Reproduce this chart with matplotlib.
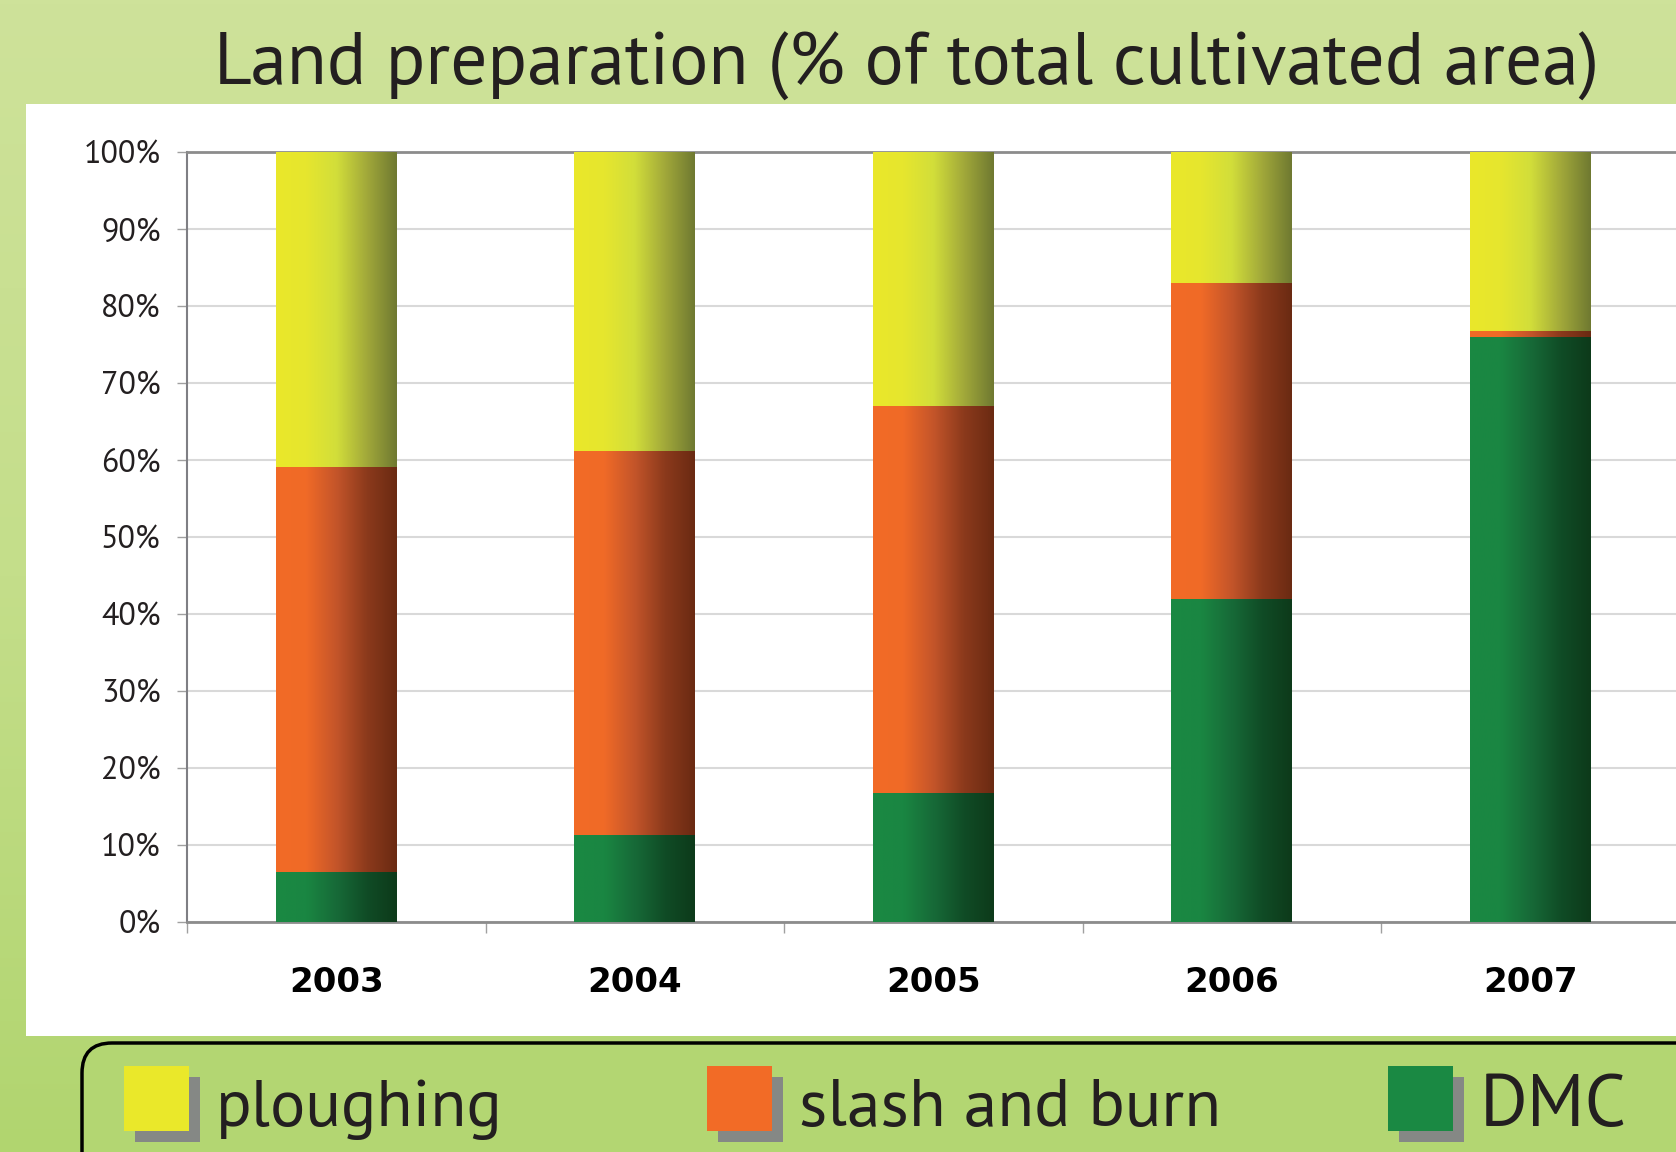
import numpy as np
import matplotlib
matplotlib.use('Agg')
import matplotlib.pyplot as plt
from matplotlib.colors import LinearSegmentedColormap
from matplotlib.patches import Rectangle, FancyBboxPatch
from matplotlib import font_manager

# ---------------- data ----------------
title = "Land preparation (% of total cultivated area)"
years = ['2003', '2004', '2005', '2006', '2007']
series_names = ['DMC', 'slash and burn', 'ploughing']      # bottom -> top
dmc = [6.5, 11.3, 16.7, 41.9, 76.0]
slash_and_burn = [52.6, 49.9, 50.3, 41.1, 0.8]
ploughing = [40.9, 38.8, 33.0, 17.0, 23.2]
ytick_values = [0, 10, 20, 30, 40, 50, 60, 70, 80, 90, 100]
ytick_labels = [f'{v}%' for v in ytick_values]
legend_order = ['ploughing', 'slash and burn', 'DMC']

# ---------------- styles ----------------
series_values = {'DMC': dmc, 'slash and burn': slash_and_burn, 'ploughing': ploughing}
grad_stops = {
    'ploughing': ['#EAE82A', '#E6E62E', '#D2DE3A', '#A2A93A', '#6F7931'],
    'slash and burn': ['#F26B26', '#F06A27', '#C4552A', '#8C3A1C', '#6A2A12'],
    'DMC': ['#1A8943', '#1A8642', '#176A38', '#104C26', '#0D3A1A'],
}
stop_pos = [0.0, 0.25, 0.5, 0.75, 1.0]
TXT = '#231F20'

names = {f.name for f in font_manager.fontManager.ttflist}
def pick(*cands):
    for c in cands:
        if c in names:
            return c
    return 'DejaVu Sans'
myriad = pick('PT Sans', 'Fira Sans', 'Liberation Sans')
ylab_font = pick('PT Sans', 'Open Sans', 'DejaVu Sans')

W, H = 1676, 1152
fig = plt.figure(figsize=(W / 100, H / 100), dpi=100)

def fit_width(txt, target):
    fig.canvas.draw()
    w = txt.get_window_extent().width
    txt.set_fontsize(txt.get_fontsize() * target / w)

# background overlay axes in pixel coordinates
bg = fig.add_axes([0, 0, 1, 1], zorder=0)
bg.set_xlim(0, W)
bg.set_ylim(H, 0)
bg.axis('off')
bg_cmap = LinearSegmentedColormap.from_list('bg', ['#CEE29A', '#C4DE8A', '#B1D56F'])
bg.imshow(np.linspace(0, 1, 256).reshape(-1, 1), extent=(0, W, H, 0), cmap=bg_cmap,
          aspect='auto', origin='upper', zorder=0)
bg.add_patch(Rectangle((26, 104), W - 26, 932, facecolor='white', edgecolor='none', zorder=1))

# title
t = bg.text(907, 85, title, ha='center', va='baseline', fontsize=50, family=myriad,
            color=TXT, zorder=2)
fit_width(t, 1386)

# legend box
bg.add_patch(FancyBboxPatch((82, 1043), 1700, 200, boxstyle='round,pad=0,rounding_size=30',
                            facecolor='#B3D672', edgecolor='black', lw=2.5, zorder=2))
leg_x = [124, 707, 1388]
leg_w = [287, 422, 147]
for x0, wt, name in zip(leg_x, leg_w, legend_order):
    bg.add_patch(Rectangle((x0 + 11, 1077), 65, 65, facecolor='#858885', edgecolor='none', zorder=3))
    bg.add_patch(Rectangle((x0, 1066), 65, 65, facecolor=grad_stops[name][0], edgecolor='none', zorder=4))
    lt = bg.text(x0 + 92, 1126, name, ha='left', va='baseline', fontsize=55, family=myriad,
                 color=TXT, zorder=4)
    fit_width(lt, wt)

# main axes
ax = fig.add_axes([187 / W, 1 - 922 / H, 1492.5 / W, 770 / H], zorder=2)
ax.set_facecolor('none')
x = np.arange(len(years))
bottom = np.zeros(len(years))
grad = np.linspace(0, 1, 256).reshape(1, -1)
for name in series_names:
    vals = np.array(series_values[name])
    cmap = LinearSegmentedColormap.from_list(name, list(zip(stop_pos, grad_stops[name])))
    bars = ax.bar(x, vals, width=0.405, bottom=bottom, color=grad_stops[name][0],
                  edgecolor='none', zorder=3)
    for r in bars:
        x0, w, y0, h = r.get_x(), r.get_width(), r.get_y(), r.get_height()
        ax.imshow(grad, extent=(x0, x0 + w, y0, y0 + h), cmap=cmap, aspect='auto',
                  interpolation='bilinear', zorder=3.5)
    bottom = bottom + vals

ax.set_xlim(-0.5, 4.5)
ax.set_ylim(0, 100)
ax.set_yticks(ytick_values)
ax.set_yticklabels(ytick_labels, family=ylab_font, fontsize=23, color=TXT)
ax.yaxis.grid(True, color='#D9D9D9', lw=1.5)
ax.set_axisbelow(True)
ax.set_xticks(np.arange(-0.5, 5, 1))
ax.set_xticklabels([''] * 6)
ax.set_xticks(x, minor=True)
ax.set_xticklabels(years, minor=True, family='DejaVu Sans', fontweight='bold',
                   fontsize=24.5, color='black')
ax.tick_params(axis='x', which='major', length=8, color='#A0A0A0', width=1, direction='out')
ax.tick_params(axis='x', which='minor', length=0, pad=32)
ax.tick_params(axis='y', length=7, color='#A0A0A0', width=1, pad=12)
ax.spines['right'].set_visible(False)
ax.spines['top'].set_color('#8C8C8C')
ax.spines['top'].set_linewidth(2)
ax.spines['left'].set_color('#7F7F84')
ax.spines['left'].set_linewidth(1.5)
ax.spines['bottom'].set_color('#8C8C8C')
ax.spines['bottom'].set_linewidth(2)

fig.savefig('out.png', dpi=100)
